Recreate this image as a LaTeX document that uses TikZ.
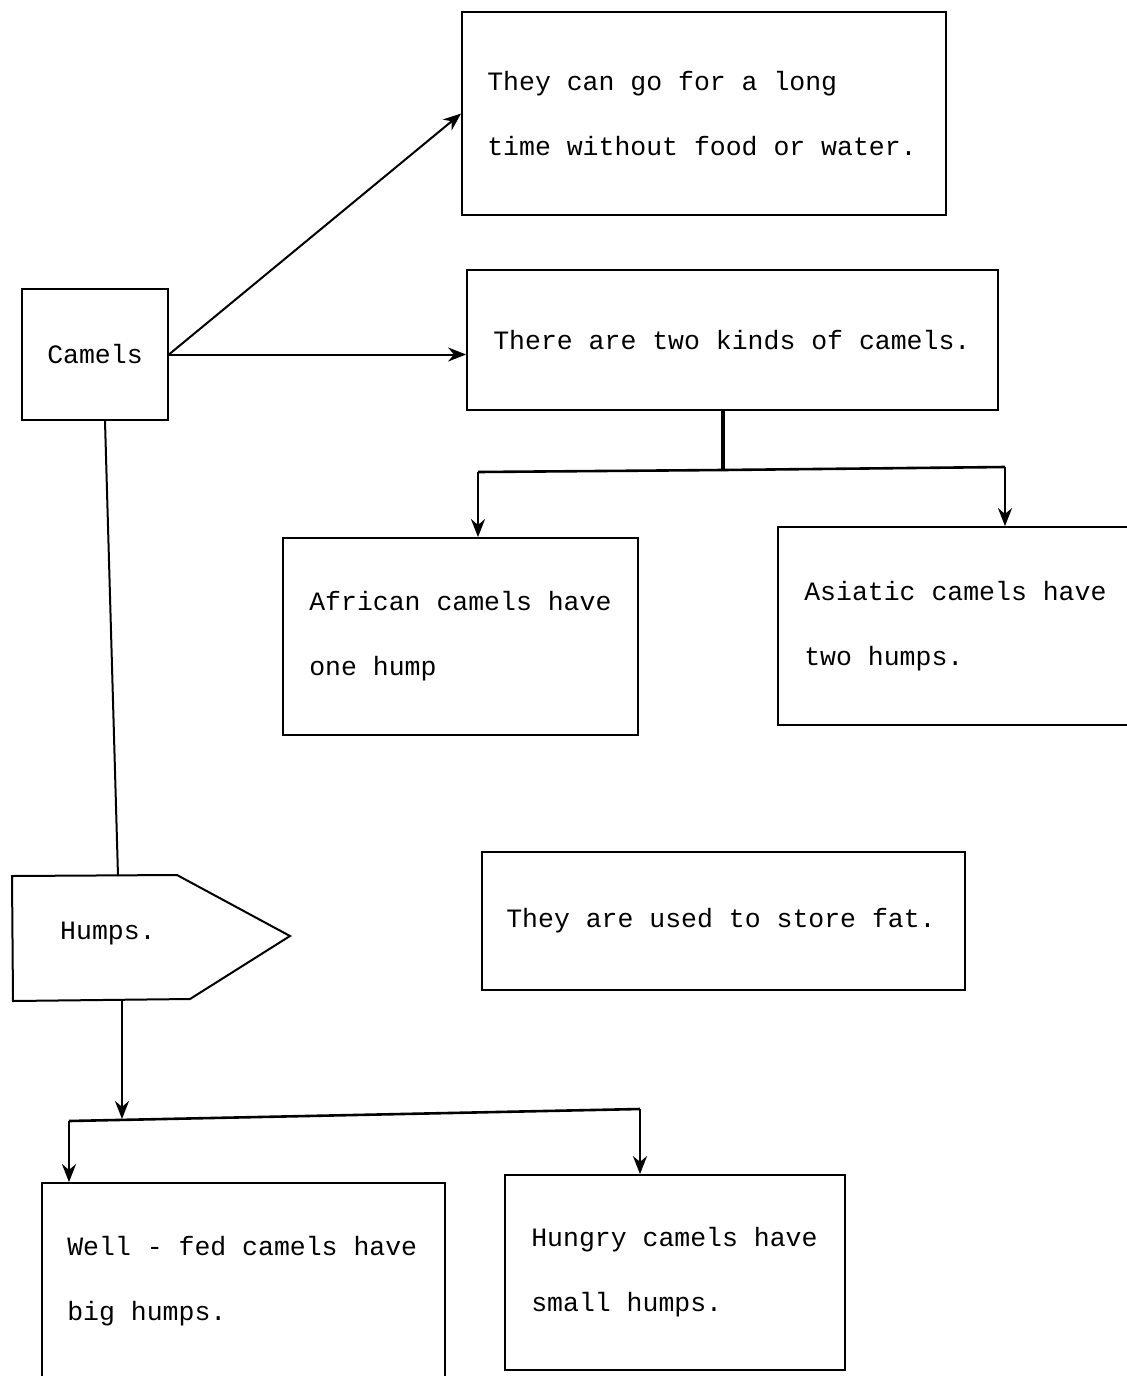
\documentclass[tikz,border=0pt]{standalone}
\usepackage{fontspec}
\newfontfamily\tw{Liberation Mono}
\usetikzlibrary{arrows.meta}
\begin{document}
\begin{tikzpicture}[x=1pt,y=-1pt,
  box/.style={draw=black,line width=1.8pt,rectangle,inner sep=0pt},
  txt/.style={font={\tw\fontsize{26.5}{65}\selectfont},align=left,inner sep=0pt,anchor=west},
  conn/.style={draw=black,line width=2pt},
  arr/.style={conn,-{Stealth[length=18pt,width=14pt]}},
  thick conn/.style={draw=black,line width=3.2pt}
]
\useasboundingbox (0,0) rectangle (1127,1376);

% boxes
\node[box,minimum width=484pt,minimum height=203pt] (top) at (704,113.5) {};
\node[txt] (toptxt) at ([xshift=26pt]top.west) {They can go for a long\\time without food or water.};

\node[box,minimum width=146pt,minimum height=131pt,font={\tw\fontsize{26.5}{65}\selectfont}] (camels) at (95,354.5) {Camels};

\node[box,minimum width=531pt,minimum height=140pt] (kinds) at (732.5,340) {};
\node[txt] (kindstxt) at ([xshift=27pt]kinds.west) {There are two kinds of camels.};

\node[box,minimum width=355pt,minimum height=197pt] (african) at (460.5,636.5) {};
\node[txt] (africantxt) at ([xshift=27pt]african.west) {African camels have\\one hump};

\node[box,minimum width=380pt,minimum height=198pt] (asiatic) at (968,626) {};
\node[txt] (asiatictxt) at ([xshift=27pt]asiatic.west) {Asiatic camels have\\two humps.};

\node[box,minimum width=483pt,minimum height=138pt] (fat) at (723.5,921) {};
\node[txt] (fattxt) at ([xshift=25pt]fat.west) {They are used to store fat.};

\node[box,minimum width=403pt,minimum height=196pt] (wellfed) at (243.5,1281) {};
\node[txt] (wellfedtxt) at ([xshift=26pt]wellfed.west) {Well - fed camels have\\big humps.};

\node[box,minimum width=340pt,minimum height=195pt] (hungry) at (675,1272.5) {};
\node[txt] (hungrytxt) at ([xshift=27pt]hungry.west) {Hungry camels have\\small humps.};

% Humps pentagon
\coordinate (h1) at (12,876);
\coordinate (h2) at (177,875);
\coordinate (h3) at (290,936);
\coordinate (h4) at (190,999);
\coordinate (h5) at (13,1001);
\draw[line width=2pt,line join=miter] (h1) -- (h2) -- (h3) -- (h4) -- (h5) -- cycle;
\node[txt] (humpstxt) at (60,934) {Humps.};
\coordinate (htop) at (118,876);
\coordinate (hbot) at (122,1000);

% connectors from Camels
\draw[arr] (camels.east) -- (top.west);
\draw[arr] (camels.east) -- (camels.east -| kinds.west);
\draw[conn] ([xshift=10pt]camels.south) -- (htop);

% two kinds split
\coordinate (k1) at (723,470);
\coordinate (kl) at (478,472);
\coordinate (kr) at (1005,467);
\draw[thick conn] (kinds.south -| k1) -- (k1);
\draw[conn,line width=2.6pt] (kl) -- (k1) -- (kr);
\draw[arr,line width=2.6pt] (kl) -- (kl |- african.north);
\draw[arr,line width=2.6pt] (kr) -- (kr |- asiatic.north);

% humps split
\coordinate (j2) at (122,1119);
\coordinate (jl) at (69,1121);
\coordinate (jr) at (640,1109);
\draw[arr,line width=2.6pt] (hbot) -- (j2);
\draw[conn,line width=2.6pt] (jl) -- (jr);
\draw[arr,line width=2.6pt] (jl) -- (jl |- wellfed.north);
\draw[arr,line width=2.6pt] (jr) -- (jr |- hungry.north);
\end{tikzpicture}
\end{document}
